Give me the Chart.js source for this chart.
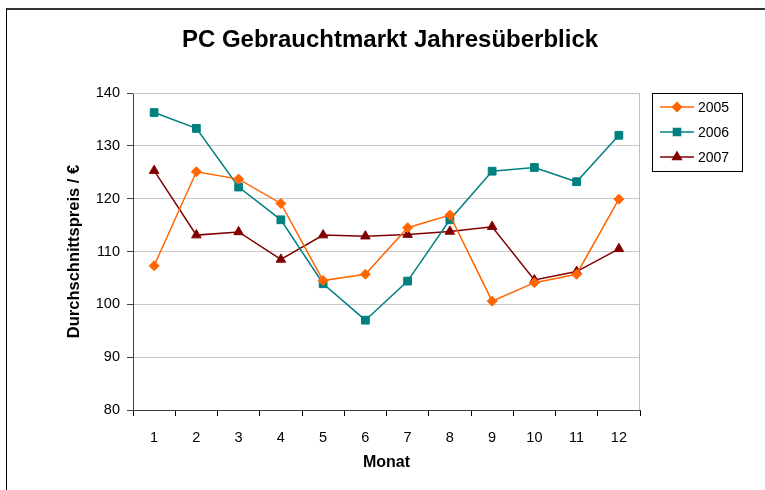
<!DOCTYPE html>
<html lang="de">
<head>
    <meta charset="UTF-8">
    <title>PC Gebrauchtmarkt Jahresüberblick</title>
    <script src="https://cdn.jsdelivr.net/npm/chart.js"></script>
    <style>
        html, body { margin: 0; padding: 0; background: #fff; }
        .frame { position: absolute; left: 6px; top: 8px; width: 770px; height: 490px;
                 border-top: 2px solid #333; border-left: 1px solid #000; }
        .wrap { position: absolute; left: 0; top: 0; width: 765px; height: 490px; }
    </style>
</head>
<body>
<div class="frame"></div>
<div class="wrap"><canvas id="priceChart"></canvas></div>

<script>
    // Monatliche Durchschnittspreise
    const months = ['1', '2', '3', '4', '5', '6', '7', '8', '9', '10', '11', '12'];
    const prices2005 = [107.3, 125.1, 123.7, 119.1, 104.5, 105.7, 114.5, 116.9, 100.6, 104.1, 105.7, 119.9];
    const prices2006 = [136.3, 133.3, 122.2, 116.0, 103.9, 97.0, 104.4, 116.0, 125.2, 125.9, 123.2, 132.0];
    const prices2007 = [125.3, 113.1, 113.7, 108.5, 113.1, 112.9, 113.2, 113.8, 114.7, 104.6, 106.2, 110.5];
    const yTicks = [80, 90, 100, 110, 120, 130, 140];

    const FONT = 'Arial, "Liberation Sans", sans-serif';

    // Titel, Rahmen der Zeichenfläche und Legende
    const decor = {
        id: 'decor',
        beforeDatasetsDraw(chart) {
            const { ctx, chartArea: a } = chart;
            ctx.save();
            ctx.strokeStyle = '#c0c0c0';
            ctx.lineWidth = 1;
            ctx.beginPath();
            ctx.moveTo(a.left, a.top + 0.5);
            ctx.lineTo(a.right - 0.5, a.top + 0.5);
            ctx.lineTo(a.right - 0.5, a.bottom);
            ctx.stroke();
            ctx.restore();
        },
        afterDraw(chart) {
            const ctx = chart.ctx;
            ctx.save();
            ctx.fillStyle = '#000';
            ctx.font = 'bold 24px ' + FONT;
            ctx.textAlign = 'center';
            ctx.textBaseline = 'middle';
            ctx.fillText('PC Gebrauchtmarkt Jahresüberblick', 390, 40);

            // Legende
            ctx.strokeStyle = '#000';
            ctx.lineWidth = 1;
            ctx.strokeRect(652.5, 93.5, 90, 78);
            ctx.font = '14px ' + FONT;
            ctx.textAlign = 'left';
            chart.data.datasets.forEach((ds, i) => {
                const y = 107 + i * 25;
                ctx.strokeStyle = ds.borderColor;
                ctx.lineWidth = 1.5;
                ctx.beginPath();
                ctx.moveTo(660, y);
                ctx.lineTo(694, y);
                ctx.stroke();
                Chart.helpers.drawPoint(ctx, {
                    pointStyle: ds.pointStyle,
                    radius: ds.pointRadius - 0.5,
                    borderWidth: 1
                }, 677, y);
                ctx.fillStyle = ds.pointBackgroundColor;
                ctx.strokeStyle = ds.pointBorderColor;
                ctx.fill();
                ctx.fillStyle = '#000';
                ctx.fillText(ds.label, 698, y + 1);
            });
            ctx.restore();
        }
    };

    function series(label, data, color, style, radius) {
        return {
            label: label,
            data: data,
            borderColor: color,
            backgroundColor: color,
            borderWidth: 1.5,
            pointStyle: style,
            pointRadius: radius,
            pointBackgroundColor: color,
            pointBorderColor: color,
            pointBorderWidth: 1,
            tension: 0
        };
    }

    const ctx = document.getElementById('priceChart').getContext('2d');
    new Chart(ctx, {
        type: 'line',
        data: {
            labels: months,
            datasets: [
                series('2005', prices2005, '#ff6600', 'rectRot', 5),
                series('2006', prices2006, '#008080', 'rect', 5.5),
                series('2007', prices2007, '#800000', 'triangle', 5.5)
            ]
        },
        options: {
            responsive: true,
            maintainAspectRatio: false,
            animation: false,
            layout: { padding: { left: 60, right: 125, top: 93, bottom: 8 } },
            plugins: {
                legend: { display: false },
                tooltip: { enabled: false }
            },
            scales: {
                x: {
                    offset: true,
                    afterFit(scale) { scale.height = 72; },
                    grid: {
                        offset: true,
                        drawOnChartArea: false,
                        tickLength: 6,
                        color: '#000'
                    },
                    border: { color: '#404040', width: 1 },
                    ticks: {
                        color: '#000',
                        padding: 13,
                        maxRotation: 0,
                        font: { family: FONT, size: 14.5 }
                    },
                    title: {
                        display: true,
                        text: 'Monat',
                        color: '#000',
                        font: { family: FONT, size: 16, weight: 'bold' },
                        padding: { top: 8, bottom: 10 }
                    }
                },
                y: {
                    min: 80,
                    max: 140,
                    afterFit(scale) { scale.width = 73; },
                    afterBuildTicks(scale) { scale.ticks = yTicks.map(v => ({ value: v })); },
                    grid: {
                        color: '#c8c8c8',
                        tickLength: 6,
                        tickColor: '#404040'
                    },
                    border: { color: '#404040', width: 1 },
                    ticks: {
                        color: '#000',
                        padding: 7,
                        font: { family: FONT, size: 14.5 }
                    },
                    title: {
                        display: true,
                        text: 'Durchschnittspreis / €',
                        color: '#000',
                        font: { family: FONT, size: 16.5, weight: 'bold' },
                        padding: { top: 5, bottom: 0 }
                    }
                }
            }
        },
        plugins: [decor]
    });
</script>
</body>
</html>
